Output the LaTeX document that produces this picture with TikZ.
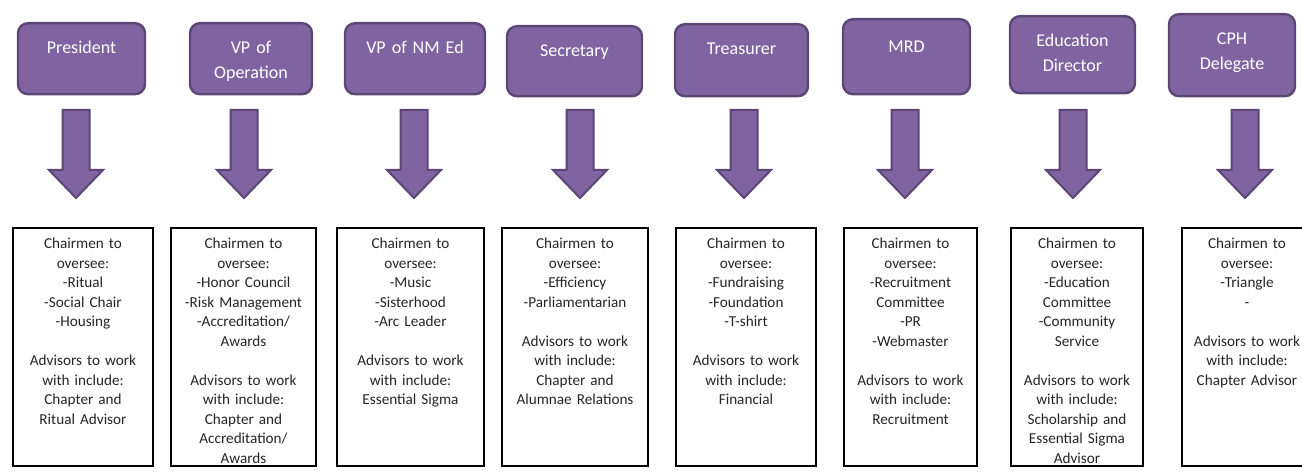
\documentclass[tikz,border=0pt]{standalone}
\usepackage{fontspec}
\setmainfont{Carlito}
\usetikzlibrary{positioning}

\definecolor{rolefill}{RGB}{128,100,162}
\definecolor{roleedge}{RGB}{92,70,118}

\tikzset{
  role/.style={draw=roleedge, line width=1.2pt, fill=rolefill, rounded corners=5pt,
    text=white, align=center, anchor=north, inner xsep=0pt, inner ysep=0pt,
    text height=15pt, font=\fontsize{9}{12.5}\selectfont},
  duties/.style={draw=black, line width=0.8pt, fill=white, text=black!85, align=center,
    anchor=north, inner xsep=0pt, inner ysep=0pt, text height=10.5pt, text depth=108.5pt,
    font=\fontsize{7.6}{9.75}\selectfont},
  downarrow/.style={draw=roleedge, line width=1pt, fill=rolefill, line join=miter}
}

\begin{document}
\begin{tikzpicture}[x=0.5pt,y=-0.5pt]
  \useasboundingbox (0,0) rectangle (1302,475);

  % officers
  \node [role, text width=63.5pt, text depth=20.5pt] (pres) at (81.5,22) {President};
  \node [role, text width=61pt, text depth=20.5pt] (vpop) at (251,22) {VP of\\Operation};
  \node [role, text width=70pt, text depth=20.5pt] (vpnm) at (415,22) {VP of NM Ed};
  \node [role, text width=67.5pt, text depth=20pt] (sec) at (574.5,25) {Secretary};
  \node [role, text width=66.5pt, text depth=21pt] (treas) at (741.5,23) {Treasurer};
  \node [role, text width=63.5pt, text height=16.5pt, text depth=21pt] (mrd) at (906.5,18) {MRD};
  \node [role, text width=62.5pt, text depth=23.5pt] (edu) at (1072.5,15) {Education\\Director};
  \node [role, text width=63pt, text depth=26pt] (cph) at (1232,13) {CPH\\Delegate};

  % block arrows
  \foreach \n/\x in {pres/76,vpop/244,vpnm/414,sec/580,treas/744,mrd/905,edu/1073,cph/1245}{
    \coordinate (\n-arrow) at (\x,110);
    \draw [downarrow] (\n-arrow) ++(-13.5,0) -- ++(27,0) -- ++(0,60) -- ++(13.5,0)
      -- ++(-27,28) -- ++(-27,-28) -- ++(13.5,0) -- cycle;
  }

  % duties
  \node [duties, text width=70pt] (pres-duties) at (83,227) {Chairmen to\\oversee:\\-Ritual\\-Social Chair\\-Housing\\[9.75pt]Advisors to work\\with include:\\Chapter and\\Ritual Advisor};
  \node [duties, text width=72.5pt] (vpop-duties) at (243.5,227) {Chairmen to\\oversee:\\-Honor Council\\-Risk Management\\-Accreditation/\\Awards\\[9.75pt]Advisors to work\\with include:\\Chapter and\\Accreditation/\\Awards};
  \node [duties, text width=73.5pt] (vpnm-duties) at (410.5,227) {Chairmen to\\oversee:\\-Music\\-Sisterhood\\-Arc Leader\\[9.75pt]Advisors to work\\with include:\\Essential Sigma};
  \node [duties, text width=73pt] (sec-duties) at (575,227) {Chairmen to\\oversee:\\-Efficiency\\-Parliamentarian\\[9.75pt]Advisors to work\\with include:\\Chapter and\\Alumnae Relations};
  \node [duties, text width=70pt] (treas-duties) at (746,227) {Chairmen to\\oversee:\\-Fundraising\\-Foundation\\-T-shirt\\[9.75pt]Advisors to work\\with include:\\Financial};
  \node [duties, text width=66.5pt] (mrd-duties) at (910.5,227) {Chairmen to\\oversee:\\-Recruitment\\Committee\\-PR\\-Webmaster\\[9.75pt]Advisors to work\\with include:\\Recruitment};
  \node [duties, text width=66pt] (edu-duties) at (1077,227) {Chairmen to\\oversee:\\-Education\\Committee\\-Community\\Service\\[9.75pt]Advisors to work\\with include:\\Scholarship and\\Essential Sigma\\Advisor};
  \node [duties, text width=65pt] (cph-duties) at (1247,227) {Chairmen to\\oversee:\\-Triangle\\-\\[9.75pt]Advisors to work\\with include:\\Chapter Advisor};

\end{tikzpicture}
\end{document}
